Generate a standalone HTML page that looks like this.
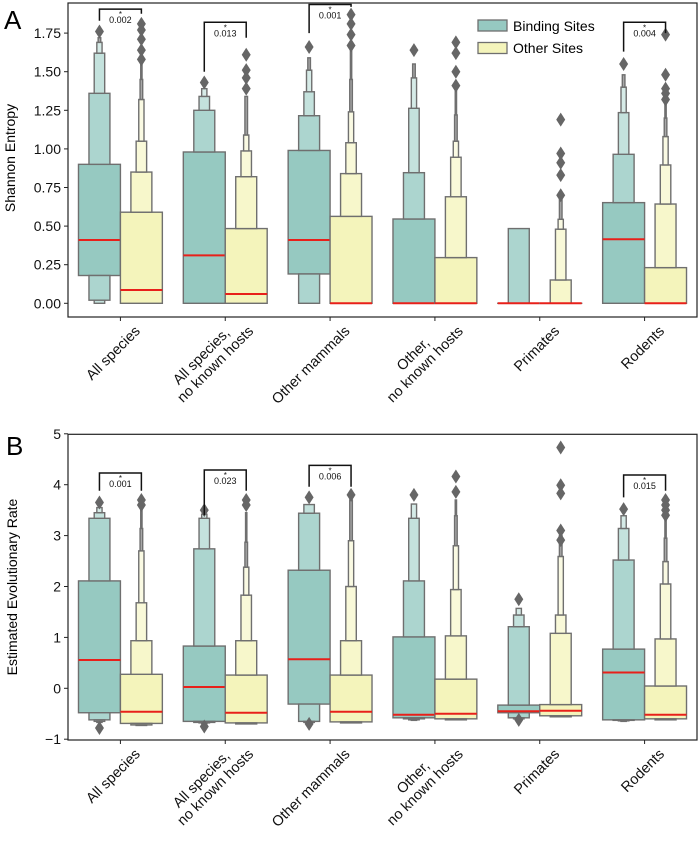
<!DOCTYPE html>
<html><head><meta charset="utf-8">
<style>
html,body{margin:0;padding:0;background:#fff;}
svg{display:block;font-family:"Liberation Sans","DejaVu Sans",sans-serif;}
</style></head>
<body>
<svg id="chart" width="700" height="848" viewBox="0 0 700 848" xmlns="http://www.w3.org/2000/svg">
<text x="4" y="29" font-size="26">A</text>
<text x="6" y="455" font-size="26">B</text>
<text transform="translate(15,158) rotate(-90)" text-anchor="middle" font-size="14">Shannon Entropy</text>
<text transform="translate(17,587) rotate(-90)" text-anchor="middle" font-size="14">Estimated Evolutionary Rate</text>
<g id="ga"></g><g id="gb"></g>
<g>
<rect x="478" y="20" width="29" height="11" fill="#96c9c1" stroke="#6f6f6f" stroke-width="1.3"/>
<text x="513" y="31" font-size="14">Binding Sites</text>
<rect x="478" y="42.5" width="29" height="11" fill="#f4f4bb" stroke="#6f6f6f" stroke-width="1.3"/>
<text x="513" y="53" font-size="14">Other Sites</text>
</g>
</svg>
<script>
const categories = ["All species","All species,|no known hosts","Other mammals","Other,|no known hosts","Primates","Rodents"];
// Panel A levels [lo,hi] from widest to narrowest
const aBindLevels = [
 [[0.18,0.90],[0.02,1.36],[0.0,1.62],[0.0,1.69],[0.0,1.72]],
 [[0,0.98],[0,1.25],[0,1.34],[0,1.39]],
 [[0.19,0.99],[0,1.215],[0,1.37],[0,1.51],[0,1.59]],
 [[0,0.546],[0,0.846],[0,1.263],[0,1.46],[0,1.55]],
 [[0,0],[0,0.484]],
 [[0,0.652],[0,0.965],[0,1.235],[0,1.40],[0,1.48]]];
const aBindMedian = [0.41,0.31,0.41,0,0,0.415];
const aBindOut = [[1.76],[1.43],[1.66],[1.64],[],[1.55]];
const aOtherLevels = [
 [[0,0.59],[0,0.85],[0,1.05],[0,1.32],[0,1.45],[0,1.56]],
 [[0,0.484],[0,0.82],[0,0.987],[0,1.09],[0,1.34]],
 [[0,0.563],[0,0.84],[0,1.04],[0,1.24],[0,1.45],[0,1.66]],
 [[0,0.296],[0,0.69],[0,0.946],[0,1.05],[0,1.22],[0,1.38]],
 [[0,0],[0,0.151],[0,0.48],[0,0.544],[0,0.67]],
 [[0,0.231],[0,0.643],[0,0.896],[0,1.08],[0,1.2],[0,1.3]]];
const aOtherMedian = [0.086,0.06,0,0,0,0];
const aOtherOut = [[1.58,1.64,1.71,1.77,1.81],[1.39,1.46,1.51,1.61],[1.67,1.74,1.81,1.87],[1.41,1.5,1.62,1.69],[0.70,0.83,0.91,0.97,1.19],[1.32,1.36,1.39,1.48,1.74]];
const aTicks = [0,0.25,0.5,0.75,1.0,1.25,1.5,1.75];
const aTickLabels = ["0.00","0.25","0.50","0.75","1.00","1.25","1.50","1.75"];
const aSigCat = [0,1,2,5];
const aSigP = ["0.002","0.013","0.001","0.004"];
const aSigTop = [1.905,1.82,1.935,1.82];
const aSigLeft = [1.83,1.50,1.75,1.63];
const aSigRight = [1.875,1.72,1.92,1.75];
// Panel B
const bBindLevels = [
 [[-0.48,2.11],[-0.62,3.34],[-0.65,3.45],[-0.67,3.55]],
 [[-0.65,0.83],[-0.67,2.74],[-0.68,3.34],[-0.69,3.42]],
 [[-0.31,2.32],[-0.65,3.44],[-0.67,3.61]],
 [[-0.58,1.01],[-0.6,2.11],[-0.62,3.34],[-0.63,3.62]],
 [[-0.48,-0.33],[-0.58,1.21],[-0.6,1.44],[-0.61,1.57]],
 [[-0.62,0.77],[-0.63,2.52],[-0.64,3.14],[-0.65,3.39]]];
const bBindMedian = [0.556,0.026,0.57,-0.52,-0.45,0.31];
const bBindOut = [[3.65,-0.78],[3.5,-0.75],[3.75,-0.7],[3.8],[1.75,-0.62],[3.52]];
const bOtherLevels = [
 [[-0.69,0.275],[-0.72,0.935],[-0.73,1.68],[-0.73,2.70],[-0.73,3.14],[-0.73,3.5]],
 [[-0.68,0.26],[-0.7,0.935],[-0.7,1.83],[-0.7,2.38],[-0.7,2.87],[-0.7,3.45]],
 [[-0.66,0.26],[-0.68,0.935],[-0.68,2.0],[-0.68,2.9],[-0.68,3.7]],
 [[-0.6,0.18],[-0.62,1.03],[-0.62,1.94],[-0.62,2.80],[-0.62,3.39],[-0.62,3.7]],
 [[-0.54,-0.32],[-0.56,1.08],[-0.56,1.44],[-0.56,2.59],[-0.56,3.0]],
 [[-0.6,0.045],[-0.62,0.97],[-0.62,2.05],[-0.62,2.49],[-0.62,2.95],[-0.62,3.3]]];
const bOtherMedian = [-0.46,-0.48,-0.46,-0.5,-0.44,-0.52];
const bOtherOut = [[3.6,3.7],[3.6,3.7],[3.8],[3.86,4.16],[2.91,3.1,3.83,3.99,4.73],[3.4,3.5,3.6,3.7]];
const bTicks = [-1,0,1,2,3,4,5];
const bTickLabels = ["\u22121","0","1","2","3","4","5"];
const bSigCat = [0,1,2,5];
const bSigP = ["0.001","0.023","0.006","0.015"];
const bSigTop = [4.23,4.29,4.38,4.19];
const bSigLeft = [3.88,3.4,3.96,3.75];
const bSigRight = [3.88,3.88,3.96,3.88];

const NS='http://www.w3.org/2000/svg';
function mk(tag,attrs,parent){const e=document.createElementNS(NS,tag);for(const k in attrs)e.setAttribute(k,attrs[k]);parent.appendChild(e);return e;}
const bindCols=['#96c9c1','#acd5cf','#c4e2dd','#d6ebe7','#e6f3f1','#f1f8f7'];
const othCols=['#f4f4bb','#f7f7cb','#f9f9d9','#fafae3','#fcfcec','#fdfdf3'];

function panel(g,o){
  const L=68,R=697,top=o.top,bot=o.bot;
  const band=(R-L)/categories.length;
  const xc=i=>L+band*(i+0.5);
  const y=v=>o.y0-(v-o.v0)*o.k;
  const half=band*0.4;
  o.ticks.forEach((t,i)=>{
    const ln=mk('line',{x1:L-4,x2:L,y1:y(t),y2:y(t),stroke:'#222','stroke-width':1},g);
    
    
    const tx=mk('text',{x:L-7,y:y(t)+5,'text-anchor':'end','font-size':14,fill:'#111'},g);
    tx.textContent=o.tickLabels[i];
    
    
  });
  function seg(cx,ww,v1,v2,fill,name){
    const r=mk('rect',{x:cx-ww/2,y:y(v2),width:ww,height:Math.max(0.01,y(v1)-y(v2)),fill:fill,stroke:'#6f6f6f','stroke-width':1.4},g);
    
    
  }
  function boxen(cx,levels,med,outs,cols,name){
    const w=half;
    levels.forEach((lv,k)=>{
      const ww=w/Math.pow(2,k);
      const fill=k>3?'#a9a9a9':cols[k];
      if(k===0){seg(cx,ww,lv[0],lv[1],fill,name+'-level-1');return;}
      const prev=levels[k-1];
      if(lv[1]>prev[1]) seg(cx,ww,prev[1],lv[1],fill,name+'-level-'+(k+1)+'-upper');
      if(lv[0]<prev[0]) seg(cx,ww,lv[0],prev[0],fill,name+'-level-'+(k+1)+'-lower');
    });
    const m=mk('line',{x1:cx-w/2,x2:cx+w/2,y1:y(med),y2:y(med),stroke:'#e8201a','stroke-width':2},g);
    
    
    outs.forEach(v=>{
      const py=y(v);
      const d=mk('path',{d:`M${cx} ${py-7}L${cx+4.5} ${py}L${cx} ${py+7}L${cx-4.5} ${py}Z`,fill:'#666'},g);
      
      
    });
  }
  categories.forEach((c,i)=>{
    boxen(xc(i)-half/2,o.bl[i],o.bm[i],o.bo[i],bindCols,'binding-box');
    boxen(xc(i)+half/2,o.ol[i],o.om[i],o.oo[i],othCols,'other-box');
    const t=mk('line',{x1:xc(i),x2:xc(i),y1:bot,y2:bot+4,stroke:'#222'},g);
    
    
    const lg=mk('g',{transform:`translate(${xc(i)},${bot}) rotate(-45)`},g);
    
    
    const parts=c.split('|');
    if(parts.length===1){
      const tx=mk('text',{x:4,y:25,'text-anchor':'end','font-size':14.5,fill:'#111'},lg);tx.textContent=parts[0];
    } else {
      const tx=mk('text',{x:parts[0].length>8?-8:-22,y:15.6,'text-anchor':'end','font-size':14.5,fill:'#111'},lg);tx.textContent=parts[0];
      const tx2=mk('text',{x:9.9,y:31.1,'text-anchor':'end','font-size':14.5,fill:'#111'},lg);tx2.textContent=parts[1];
    }
  });
  o.sigCat.forEach((ci,j)=>{
    const x1=xc(ci)-half/2,x2=xc(ci)+half/2;
    const p=mk('path',{d:`M${x1} ${y(o.sigLeft[j])}V${y(o.sigTop[j])}H${x2}V${y(o.sigRight[j])}`,fill:'none',stroke:'#111','stroke-width':1.5},g);
    
    
    const s=mk('text',{x:(x1+x2)/2,y:y(o.sigTop[j])+8,'text-anchor':'middle','font-size':8,fill:'#111'},g);s.textContent='*';
    
    
    const tt=mk('text',{x:(x1+x2)/2,y:y(o.sigTop[j])+14,'text-anchor':'middle','font-size':9,fill:'#111'},g);tt.textContent=o.sigP[j];
    
    
  });
  const fr=mk('rect',{x:L,y:top,width:R-L,height:bot-top,fill:'none',stroke:'#222','stroke-width':1.2},g);
  
  
}
panel(document.getElementById('ga'),{top:3,bot:317,y0:303.3,v0:0,k:154.4,ticks:aTicks,tickLabels:aTickLabels,
 bl:aBindLevels,bm:aBindMedian,bo:aBindOut,ol:aOtherLevels,om:aOtherMedian,oo:aOtherOut,
 sigCat:aSigCat,sigP:aSigP,sigTop:aSigTop,sigLeft:aSigLeft,sigRight:aSigRight});
panel(document.getElementById('gb'),{top:434.3,bot:740,y0:688.3,v0:0,k:50.9,ticks:bTicks,tickLabels:bTickLabels,
 bl:bBindLevels,bm:bBindMedian,bo:bBindOut,ol:bOtherLevels,om:bOtherMedian,oo:bOtherOut,
 sigCat:bSigCat,sigP:bSigP,sigTop:bSigTop,sigLeft:bSigLeft,sigRight:bSigRight});
</script>
</body></html>
